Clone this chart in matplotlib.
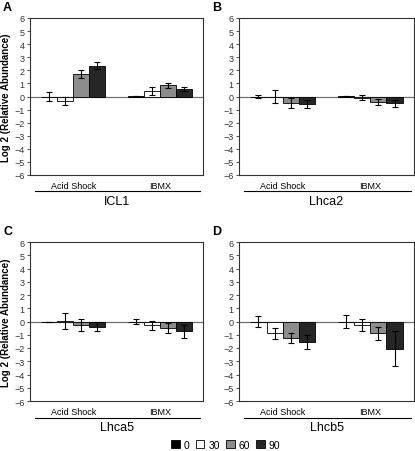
import matplotlib
matplotlib.use("Agg")
import matplotlib.pyplot as plt
import numpy as np
from matplotlib.patches import Patch

plt.rcParams['font.family'] = ['Liberation Sans', 'DejaVu Sans']

times = ["0", "30", "60", "90"]
conditions = ["Acid Shock", "IBMX"]
genes = ["ICL1", "Lhca2", "Lhca5", "Lhcb5"]
letters = ["A", "B", "C", "D"]

# values[gene][condition] -> 4 time points
icl1_vals = [[0.0, -0.35, 1.7, 2.35], [0.07, 0.4, 0.85, 0.55]]
icl1_err = [[0.37, 0.28, 0.3, 0.25], [0.0, 0.3, 0.2, 0.15]]
lhca2_vals = [[0.0, 0.0, -0.5, -0.6], [0.07, -0.1, -0.42, -0.5]]
lhca2_err = [[0.1, 0.47, 0.35, 0.3], [0.0, 0.2, 0.22, 0.27]]
lhca5_vals = [[-0.06, 0.05, -0.25, -0.38], [0.0, -0.3, -0.5, -0.75]]
lhca5_err = [[0.0, 0.58, 0.45, 0.33], [0.18, 0.33, 0.35, 0.47]]
lhcb5_vals = [[0.0, -0.9, -1.25, -1.55], [0.0, -0.25, -0.9, -2.05]]
lhcb5_err = [[0.4, 0.42, 0.4, 0.52], [0.5, 0.45, 0.5, 1.3]]

all_vals = [icl1_vals, lhca2_vals, lhca5_vals, lhcb5_vals]
all_errs = [icl1_err, lhca2_err, lhca5_err, lhcb5_err]

colors = ["#000000", "#ffffff", "#8c8c8c", "#262626"]

W, H = 415, 452
fig = plt.figure(figsize=(W / 100, H / 100), dpi=100)

# pixel boxes: left, top, right, bottom
boxes = [(30, 19, 203, 176), (239, 19, 414, 176),
         (30, 243, 203, 402), (239, 243, 414, 402)]

bw = 0.185
offsets = (np.arange(4) - 1.5) * bw
group_centers = np.array([0.5, 1.5])

for k, (l, t, r, b) in enumerate(boxes):
    ax = fig.add_axes([l / W, 1 - b / H, (r - l) / W, (b - t) / H])
    vals = all_vals[k]
    errs = all_errs[k]
    for j in range(4):
        xs = group_centers + offsets[j]
        v = [vals[0][j], vals[1][j]]
        e = [errs[0][j], errs[1][j]]
        ax.bar(xs, v, width=bw, color=colors[j], edgecolor="black",
               linewidth=0.6, zorder=3)
        ax.errorbar(xs, v, yerr=e, fmt="none", ecolor="black",
                    elinewidth=0.8, capsize=2.2, capthick=0.8, zorder=4)
    ax.axhline(0, color="#707070", linewidth=0.9, zorder=2)
    ax.set_xlim(0, 2)
    ax.set_ylim(-6, 6)
    ax.set_yticks(np.arange(-6, 7, 1))
    ax.tick_params(axis="y", labelsize=6.5, length=2.5, width=0.6, pad=1.5,
                   colors="#333333")
    ax.set_xticks(group_centers)
    ax.set_xticklabels(conditions, fontsize=6.5)
    ax.tick_params(axis="x", length=0, pad=4)
    for s in ax.spines.values():
        s.set_linewidth(0.8)
        s.set_color("#333333")
    # separator line and gene label
    ax.plot([0.03, 0.98], [-0.105, -0.105], transform=ax.transAxes,
            color="black", linewidth=0.8, clip_on=False)
    ax.text(0.5, -0.165, genes[k], transform=ax.transAxes, ha="center",
            va="center", fontsize=9)
    if k % 2 == 0:
        ax.set_ylabel("Log 2 (Relative Abundance)", fontsize=7,
                      fontweight="bold", labelpad=2)
    fig.text((l - 27) / W, 1 - (t - 11) / H, letters[k], fontsize=9,
             fontweight="bold", ha="left", va="center")

handles = [Patch(facecolor=c, edgecolor="black", linewidth=0.6) for c in colors]
fig.legend(handles, times, loc="center", bbox_to_anchor=(226 / W, 1 - 446 / H),
           ncol=4, frameon=False, fontsize=7.5, handlelength=0.8,
           handleheight=0.8, handletextpad=0.4, columnspacing=0.6)

fig.savefig("out.png", dpi=100)
